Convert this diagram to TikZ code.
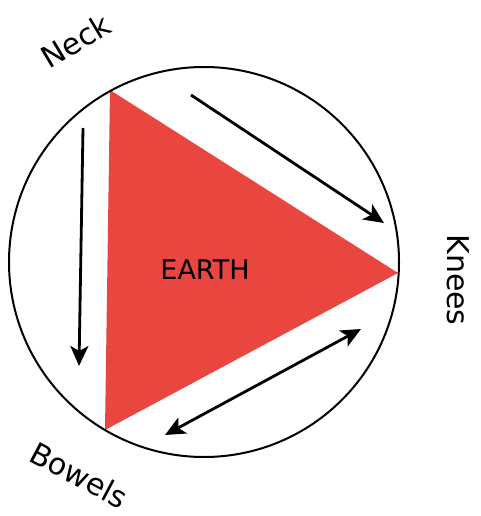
\documentclass[tikz,border=0pt]{standalone}
\usepackage{fontspec}
\setmainfont{DejaVu Sans}
\usetikzlibrary{arrows.meta}
\definecolor{earthred}{HTML}{E8463E}
\tikzset{
  lbl/.style={font=\fontsize{30}{34}\selectfont, inner sep=0pt},
  tip/.tip={Stealth[length=20pt,width=18pt,inset=5pt]},
  flow/.style={line width=2.8pt, -tip},
  flowboth/.style={line width=2.8pt, tip-tip},
}
\begin{document}
\begin{tikzpicture}[x=1pt,y=-1pt]
\useasboundingbox (0,0) rectangle (481,516);
\coordinate (c) at (204,262);
\coordinate (top) at (110,90);
\coordinate (right) at (398,273);
\coordinate (bottom) at (105,430);
\fill[earthred] (top) -- (right) -- (bottom) -- cycle;
\draw[line width=2pt] (c) circle[radius=195];
\node[lbl, font=\fontsize{27}{30}\selectfont] (earth) at (205,270) {EARTH};
\node[lbl, rotate=31] (neck) at (76,41) {Neck};
\node[lbl, rotate=-90] (knees) at (458,280) {Knees};
\node[lbl, rotate=-28] (bowels) at (79,475) {Bowels};
\coordinate (a1s) at (83,128);
\coordinate (a1e) at (79,366);
\coordinate (a2s) at (191,95);
\coordinate (a2e) at (384,223);
\coordinate (a3s) at (361,329);
\coordinate (a3e) at (165,435);
\draw[flow] (a1s) -- (a1e);
\draw[flow] (a2s) -- (a2e);
\draw[flowboth] (a3e) -- (a3s);
\end{tikzpicture}
\end{document}
